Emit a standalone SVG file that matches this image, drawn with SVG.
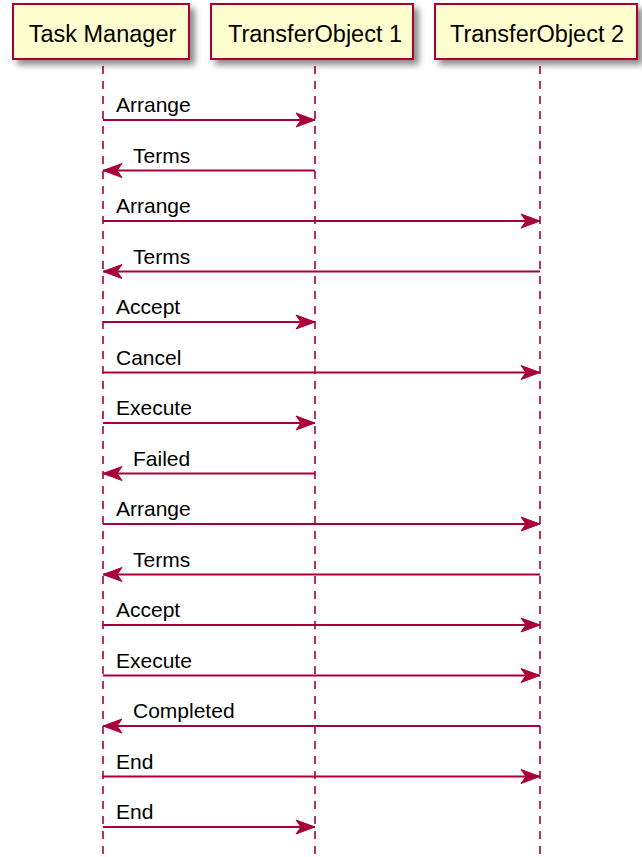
<svg xmlns="http://www.w3.org/2000/svg" width="642" height="857" viewBox="0 0 642 857">
<style>
.box{fill:#FEFECE;stroke:#A80036;stroke-width:2}
.pt{font-family:"Liberation Sans",Arial,sans-serif;font-size:23.5px;fill:#000;text-anchor:middle}
.life{stroke:#A80036;stroke-width:1.6;stroke-dasharray:8,7;fill:none}
.msg{stroke:#A80036;stroke-width:1.8;fill:none}
.ml{font-family:"Liberation Sans",Arial,sans-serif;font-size:21px;fill:#000}
.ah{fill:#A80036;stroke:#A80036;stroke-width:1}
</style>
<defs>
<filter id="sh" x="-20%" y="-30%" width="150%" height="180%">
<feGaussianBlur in="SourceAlpha" stdDeviation="3"/>
<feOffset dx="5" dy="5" result="b"/>
<feComponentTransfer><feFuncA type="linear" slope="0.45"/></feComponentTransfer>
<feMerge><feMergeNode/><feMergeNode in="SourceGraphic"/></feMerge>
</filter>
<marker id="ar" viewBox="0 0 21 16" refX="20" refY="8" markerWidth="21" markerHeight="16" markerUnits="userSpaceOnUse" orient="auto">
<path class="ah" d="M1,1 L20,8 L1,15 L6,8 Z"/>
</marker>
</defs>
<g id="lifelines">
<line class="life" x1="103" y1="66" x2="103" y2="857"/>
<line class="life" x1="315" y1="66" x2="315" y2="857"/>
<line class="life" x1="540" y1="66" x2="540" y2="857"/>
</g>
<g id="p-taskmanager">
<rect class="box" x="13" y="4" width="176" height="55" filter="url(#sh)"/>
<text class="pt" x="102.5" y="42">Task Manager</text>
</g>
<g id="p-transfer1">
<rect class="box" x="211" y="4" width="202" height="55" filter="url(#sh)"/>
<text class="pt" x="315" y="42">TransferObject 1</text>
</g>
<g id="p-transfer2">
<rect class="box" x="435" y="4" width="202" height="55" filter="url(#sh)"/>
<text class="pt" x="537" y="42">TransferObject 2</text>
</g>
<g id="connectors">
<line class="msg" x1="103" y1="120" x2="315" y2="120" marker-end="url(#ar)"/>
<line class="msg" x1="315" y1="170.5" x2="103" y2="170.5" marker-end="url(#ar)"/>
<line class="msg" x1="103" y1="221" x2="540" y2="221" marker-end="url(#ar)"/>
<line class="msg" x1="540" y1="271.5" x2="103" y2="271.5" marker-end="url(#ar)"/>
<line class="msg" x1="103" y1="322" x2="315" y2="322" marker-end="url(#ar)"/>
<line class="msg" x1="103" y1="372.5" x2="540" y2="372.5" marker-end="url(#ar)"/>
<line class="msg" x1="103" y1="423" x2="315" y2="423" marker-end="url(#ar)"/>
<line class="msg" x1="315" y1="473.5" x2="103" y2="473.5" marker-end="url(#ar)"/>
<line class="msg" x1="103" y1="524" x2="540" y2="524" marker-end="url(#ar)"/>
<line class="msg" x1="540" y1="574.5" x2="103" y2="574.5" marker-end="url(#ar)"/>
<line class="msg" x1="103" y1="625" x2="540" y2="625" marker-end="url(#ar)"/>
<line class="msg" x1="103" y1="675.5" x2="540" y2="675.5" marker-end="url(#ar)"/>
<line class="msg" x1="540" y1="726" x2="103" y2="726" marker-end="url(#ar)"/>
<line class="msg" x1="103" y1="776.5" x2="540" y2="776.5" marker-end="url(#ar)"/>
<line class="msg" x1="103" y1="827" x2="315" y2="827" marker-end="url(#ar)"/>
<text class="ml" x="116" y="112">Arrange</text>
<text class="ml" x="133" y="162.5">Terms</text>
<text class="ml" x="116" y="213">Arrange</text>
<text class="ml" x="133" y="263.5">Terms</text>
<text class="ml" x="116" y="314">Accept</text>
<text class="ml" x="116" y="364.5">Cancel</text>
<text class="ml" x="116" y="415">Execute</text>
<text class="ml" x="133" y="465.5">Failed</text>
<text class="ml" x="116" y="516">Arrange</text>
<text class="ml" x="133" y="566.5">Terms</text>
<text class="ml" x="116" y="617">Accept</text>
<text class="ml" x="116" y="667.5">Execute</text>
<text class="ml" x="133" y="718">Completed</text>
<text class="ml" x="116" y="768.5">End</text>
<text class="ml" x="116" y="819">End</text>
</g>
</svg>
